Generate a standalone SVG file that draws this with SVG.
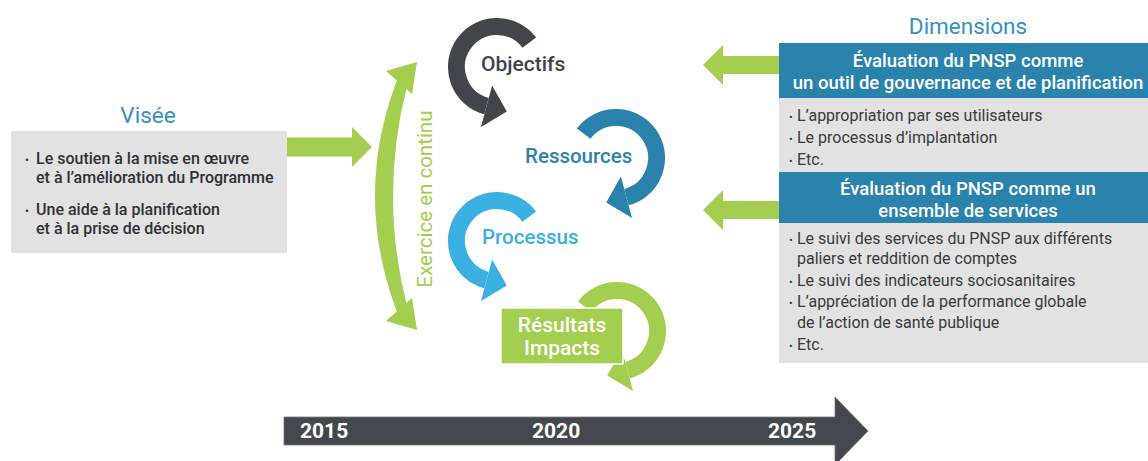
<svg xmlns="http://www.w3.org/2000/svg" width="1148" height="461" viewBox="0 0 1148 461">
  <style>
    .title { font-family: Roboto, "Liberation Sans", sans-serif; font-size: 22.5px; fill: #3592C1; text-anchor: middle; }
    .vis { font-family: Roboto, "Liberation Sans", sans-serif; font-size: 16px; font-weight: 500; fill: #2f3136; }
    .body { font-family: Roboto, "Liberation Sans", sans-serif; font-size: 16px; fill: #3a3b3d; }
    .bul { font-size: 11px; }
    .hdr { font-family: Roboto, "Liberation Sans", sans-serif; font-size: 18.5px; font-weight: 500; fill: #ffffff; text-anchor: middle; }
    .lbl { font-family: Roboto, "Liberation Sans", sans-serif; font-weight: 500; }
    .yr { font-family: Roboto, "Liberation Sans", sans-serif; font-size: 21px; font-weight: 700; fill: #ffffff; }
    .panel { fill: #E1E2E1; }
    .head { fill: #2A83AC; }
    .green { fill: #A4CE4F; }
    .ring { fill: none; stroke-width: 17; stroke-linecap: butt; }
  </style>

  <!-- Visée -->
  <g id="visee">
    <text class="title" x="148" y="123">Visée</text>
    <rect class="panel" x="11" y="131" width="276" height="122"/>
    <text class="vis"><tspan class="bul" x="25" y="164">•</tspan><tspan x="36" y="164">Le soutien à la mise en œuvre</tspan></text>
    <text class="vis" x="36" y="183">et à l’amélioration du Programme</text>
    <text class="vis"><tspan class="bul" x="25" y="215">•</tspan><tspan x="36" y="215">Une aide à la planification</tspan></text>
    <text class="vis" x="36" y="234">et à la prise de décision</text>
  </g>

  <!-- Exercice en continu -->
  <g id="exercice">
    <path class="green" d="M397,80 Q353,196 397,312 L407,306 Q379,196 407,86 Z"/>
    <polygon class="green" points="386,71 417,62 412,94"/>
    <polygon class="green" points="386,321 417,330 412,298"/>
    <text class="lbl" x="432" y="199" transform="rotate(-90 432 199)" text-anchor="middle" style="font-size:20.5px;font-weight:400;fill:#A4CE4F">Exercice en continu</text>
  </g>

  <!-- Objectifs -->
  <g id="objectifs">
    <path class="ring" stroke="#41464D" d="M529.3,42.6 A40.5,40.5 0 1 0 486.5,106.1"/>
    <polygon fill="#41464D" points="492.1,85.4 506.8,111.5 481,126.9"/>
    <text class="lbl" x="481" y="71" style="font-size:21px;fill:#3D434B">Objectifs</text>
  </g>

  <!-- Ressources -->
  <g id="ressources">
    <path class="ring" stroke="#2A83AC" d="M583.7,133.6 A40.5,40.5 0 1 1 626.5,197.1"/>
    <polygon fill="#2A83AC" points="620.9,176.4 606.2,202.5 632,217.9"/>
    <text class="lbl" x="525" y="163" style="font-size:20.5px;fill:#2A83AC">Ressources</text>
  </g>

  <!-- Processus -->
  <g id="processus">
    <path class="ring" stroke="#3BB0E3" d="M529.3,216.6 A40.5,40.5 0 1 0 486.5,280.1"/>
    <polygon fill="#3BB0E3" points="492.1,259.4 506.8,285.5 481,300.9"/>
    <text class="lbl" x="482" y="244" style="font-size:20.5px;fill:#3BB0E3">Processus</text>
  </g>

  <!-- Résultats / Impacts -->
  <g id="resultats">
    <path class="ring" stroke="#A4CE4F" d="M584.7,306.6 A40.5,40.5 0 1 1 627.5,370.1"/>
    <polygon class="green" points="621.9,349.4 607.2,375.5 633,390.9"/>
    <rect class="green" x="501" y="308" width="122" height="56" stroke="#ffffff" stroke-width="1.5"/>
    <text class="lbl" x="562" y="332" text-anchor="middle" style="font-size:21px;fill:#ffffff">Résultats</text>
    <text class="lbl" x="562" y="355" text-anchor="middle" style="font-size:21px;fill:#ffffff">Impacts</text>
  </g>

  <!-- Dimensions -->
  <g id="dimensions-title">
    <text class="title" x="968" y="34">Dimensions</text>
  </g>

  <g id="dimension-gouvernance">
    <rect class="head" x="779" y="43" width="369" height="55"/>
    <text class="hdr" x="968" y="67">Évaluation du PNSP comme</text>
    <text class="hdr" x="968" y="89">un outil de gouvernance et de planification</text>
    <rect class="panel" x="779" y="98" width="369" height="74"/>
    <text class="body"><tspan class="bul" x="789" y="121">•</tspan><tspan x="797" y="121">L’appropriation par ses utilisateurs</tspan></text>
    <text class="body"><tspan class="bul" x="789" y="143">•</tspan><tspan x="797" y="143">Le processus d’implantation</tspan></text>
    <text class="body"><tspan class="bul" x="789" y="165">•</tspan><tspan x="797" y="165">Etc.</tspan></text>
  </g>

  <g id="dimension-services">
    <rect class="head" x="779" y="172" width="369" height="51"/>
    <text class="hdr" x="968" y="195">Évaluation du PNSP comme un</text>
    <text class="hdr" x="968" y="217">ensemble de services</text>
    <rect class="panel" x="779" y="223" width="369" height="140"/>
    <text class="body"><tspan class="bul" x="789" y="244">•</tspan><tspan x="797" y="244">Le suivi des services du PNSP aux différents</tspan></text>
    <text class="body" x="797" y="264">paliers et reddition de comptes</text>
    <text class="body"><tspan class="bul" x="789" y="286">•</tspan><tspan x="797" y="286">Le suivi des indicateurs sociosanitaires</tspan></text>
    <text class="body"><tspan class="bul" x="789" y="307">•</tspan><tspan x="797" y="307">L’appréciation de la performance globale</tspan></text>
    <text class="body" x="797" y="328">de l’action de santé publique</text>
    <text class="body"><tspan class="bul" x="789" y="350">•</tspan><tspan x="797" y="350">Etc.</tspan></text>
  </g>

  <!-- Timeline -->
  <g id="timeline">
    <polygon fill="#43484F" stroke="#6f7379" stroke-width="0.8" points="284,417 835,417 835,397 868,431 835,465 835,445 284,445"/>
    <text class="yr" x="300" y="438">2015</text>
    <text class="yr" x="532" y="438">2020</text>
    <text class="yr" x="768" y="438">2025</text>
  </g>

  <!-- Connectors -->
  <g id="connectors">
    <polygon class="green" points="287,137.5 352,137.5 352,127 372,147 352,167 352,156.5 287,156.5"/>
    <polygon class="green" points="779,56 723,56 723,45 703,65 723,85 723,74 779,74"/>
    <polygon class="green" points="779,201 723,201 723,190 703,210 723,230 723,219 779,219"/>
  </g>
</svg>
